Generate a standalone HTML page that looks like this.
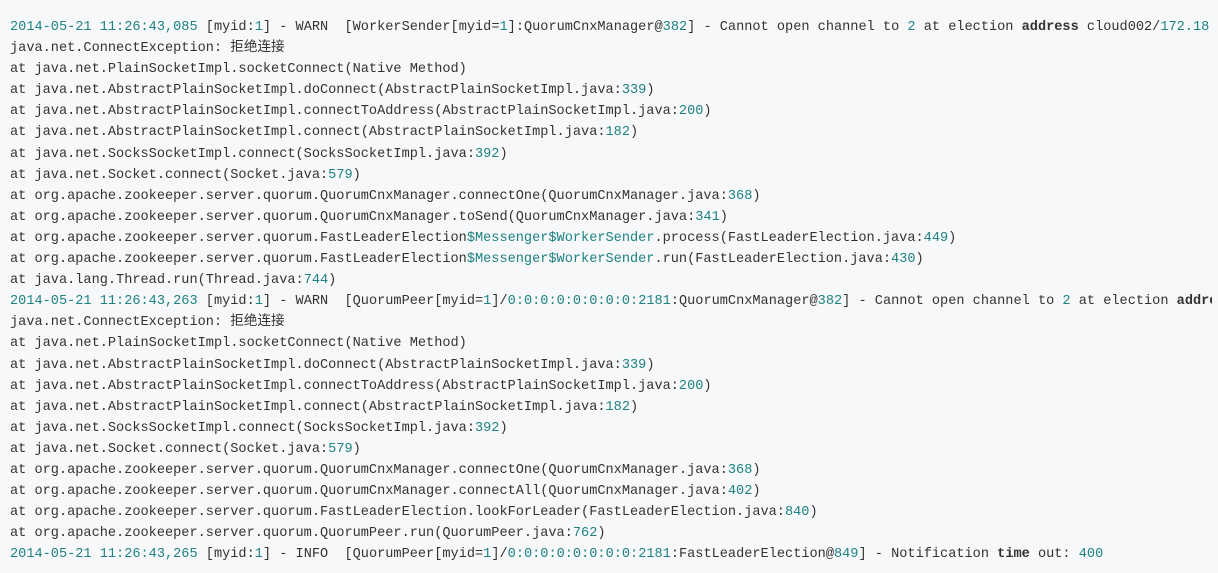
<!DOCTYPE html>
<html><head><meta charset="utf-8"><style>
html,body{margin:0;padding:0;width:1218px;height:573px;overflow:hidden;background:#f6f8fa}
pre{margin:0;padding:17px 0 0 10px;font-family:"Liberation Mono","Noto Sans CJK SC",monospace;font-size:13.6px;line-height:21.1px;color:#333;white-space:pre;overflow:hidden;width:1202px}
.n{color:#1f8282}
b{font-weight:bold;color:#333}
</style></head><body><pre><span class="n">2014-05-21 11:26:43,085</span> [myid:<span class="n">1</span>] - WARN  [WorkerSender[myid=<span class="n">1</span>]:QuorumCnxManager@<span class="n">382</span>] - Cannot open channel to <span class="n">2</span> at election <b>address</b> cloud002/<span class="n">172.18</span>
java.net.ConnectException: 拒绝连接
at java.net.PlainSocketImpl.socketConnect(Native Method)
at java.net.AbstractPlainSocketImpl.doConnect(AbstractPlainSocketImpl.java:<span class="n">339</span>)
at java.net.AbstractPlainSocketImpl.connectToAddress(AbstractPlainSocketImpl.java:<span class="n">200</span>)
at java.net.AbstractPlainSocketImpl.connect(AbstractPlainSocketImpl.java:<span class="n">182</span>)
at java.net.SocksSocketImpl.connect(SocksSocketImpl.java:<span class="n">392</span>)
at java.net.Socket.connect(Socket.java:<span class="n">579</span>)
at org.apache.zookeeper.server.quorum.QuorumCnxManager.connectOne(QuorumCnxManager.java:<span class="n">368</span>)
at org.apache.zookeeper.server.quorum.QuorumCnxManager.toSend(QuorumCnxManager.java:<span class="n">341</span>)
at org.apache.zookeeper.server.quorum.FastLeaderElection<span class="n">$Messenger$WorkerSender</span>.process(FastLeaderElection.java:<span class="n">449</span>)
at org.apache.zookeeper.server.quorum.FastLeaderElection<span class="n">$Messenger$WorkerSender</span>.run(FastLeaderElection.java:<span class="n">430</span>)
at java.lang.Thread.run(Thread.java:<span class="n">744</span>)
<span class="n">2014-05-21 11:26:43,263</span> [myid:<span class="n">1</span>] - WARN  [QuorumPeer[myid=<span class="n">1</span>]/<span class="n">0:0:0:0:0:0:0:0:2181</span>:QuorumCnxManager@<span class="n">382</span>] - Cannot open channel to <span class="n">2</span> at election <b>address</b> cloud002/<span class="n">172.18</span>
java.net.ConnectException: 拒绝连接
at java.net.PlainSocketImpl.socketConnect(Native Method)
at java.net.AbstractPlainSocketImpl.doConnect(AbstractPlainSocketImpl.java:<span class="n">339</span>)
at java.net.AbstractPlainSocketImpl.connectToAddress(AbstractPlainSocketImpl.java:<span class="n">200</span>)
at java.net.AbstractPlainSocketImpl.connect(AbstractPlainSocketImpl.java:<span class="n">182</span>)
at java.net.SocksSocketImpl.connect(SocksSocketImpl.java:<span class="n">392</span>)
at java.net.Socket.connect(Socket.java:<span class="n">579</span>)
at org.apache.zookeeper.server.quorum.QuorumCnxManager.connectOne(QuorumCnxManager.java:<span class="n">368</span>)
at org.apache.zookeeper.server.quorum.QuorumCnxManager.connectAll(QuorumCnxManager.java:<span class="n">402</span>)
at org.apache.zookeeper.server.quorum.FastLeaderElection.lookForLeader(FastLeaderElection.java:<span class="n">840</span>)
at org.apache.zookeeper.server.quorum.QuorumPeer.run(QuorumPeer.java:<span class="n">762</span>)
<span class="n">2014-05-21 11:26:43,265</span> [myid:<span class="n">1</span>] - INFO  [QuorumPeer[myid=<span class="n">1</span>]/<span class="n">0:0:0:0:0:0:0:0:2181</span>:FastLeaderElection@<span class="n">849</span>] - Notification <b>time</b> out: <span class="n">400</span></pre></body></html>
